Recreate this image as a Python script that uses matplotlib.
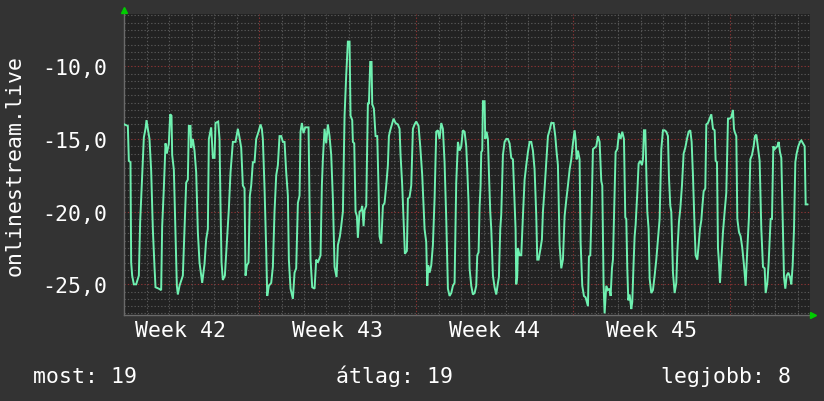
import matplotlib
matplotlib.use('Agg')
import matplotlib.pyplot as plt
import matplotlib.transforms as mtransforms
import numpy as np

# time in days from start of graph, value of onlinestream.live
days = [
    0.000, 0.149, 0.193, 0.267, 0.297, 0.342, 0.416, 0.520, 0.639, 0.698, 0.773, 0.862, 0.936, 0.981,
    1.040, 1.114, 1.189, 1.263, 1.337, 1.382, 1.530, 1.634, 1.679, 1.753, 1.828, 1.887, 1.976, 2.036,
    2.095, 2.125, 2.199, 2.273, 2.333, 2.377, 2.452, 2.600, 2.675, 2.749, 2.823, 2.868, 2.942, 2.972,
    3.046, 3.120, 3.195, 3.269, 3.343, 3.462, 3.566, 3.640, 3.715, 3.759, 3.863, 3.938, 4.012, 4.056,
    4.175, 4.235, 4.279, 4.324, 4.383, 4.473, 4.562, 4.651, 4.725, 4.829,
    4.948, 5.052, 5.126, 5.201, 5.275, 5.349, 5.394, 5.453, 5.527, 5.587, 5.646, 5.721, 5.795, 5.869,
    5.973, 6.062, 6.122, 6.166, 6.241, 6.315, 6.360, 6.434, 6.538, 6.612, 6.686, 6.761, 6.835, 6.909,
    6.984, 7.058, 7.132, 7.207, 7.281, 7.325, 7.400, 7.504, 7.578, 7.652, 7.727, 7.801, 7.845, 7.905,
    7.979, 8.053, 8.202, 8.247, 8.291, 8.366, 8.470, 8.544, 8.618, 8.737, 8.796, 8.841, 8.915, 8.990,
    9.064, 9.138, 9.212, 9.287, 9.361, 9.450, 9.510, 9.599, 9.658, 9.733, 9.807, 9.881, 9.955, 10.030,
    10.074, 10.149, 10.178, 10.238, 10.297, 10.357, 10.401, 10.475, 10.550, 10.594, 10.654, 10.698,
    10.773, 10.847, 10.892, 10.951, 11.010, 11.040, 11.114, 11.189, 11.263, 11.322, 11.367, 11.441,
    11.516, 11.590, 11.664, 11.738, 11.783, 11.843, 11.917, 11.991, 12.080, 12.184, 12.259, 12.303,
    12.377, 12.452, 12.496, 12.585, 12.630, 12.704, 12.779, 12.853, 12.927, 13.001, 13.105, 13.180,
    13.269, 13.373, 13.447, 13.492, 13.536, 13.596, 13.670, 13.744, 13.819, 13.893, 13.967, 14.042,
    14.116, 14.190, 14.264, 14.339, 14.413, 14.487, 14.562, 14.636, 14.710, 14.784, 14.859, 14.933,
    15.007, 15.082,
    15.156, 15.230, 15.275, 15.334, 15.379, 15.453, 15.527, 15.602, 15.676, 15.721, 15.780, 15.825,
    15.869, 15.899, 15.944, 15.973, 16.048, 16.077, 16.137, 16.196, 16.241, 16.300, 16.345, 16.419,
    16.493, 16.568, 16.642, 16.686, 16.746, 16.790, 16.865, 16.939, 17.013, 17.088, 17.162, 17.236,
    17.311, 17.385, 17.429, 17.459, 17.504, 17.533, 17.608, 17.682, 17.756, 17.831, 17.905, 17.979,
    18.053, 18.128, 18.202, 18.276, 18.351, 18.395, 18.455, 18.544, 18.603, 18.648, 18.722, 18.796,
    18.871, 18.945, 19.019, 19.123, 19.198, 19.257, 19.316, 19.391, 19.465, 19.539, 19.614, 19.688,
    19.762, 19.837, 19.911, 19.985, 20.059, 20.104, 20.149, 20.208, 20.282,
    20.327, 20.401, 20.475, 20.550, 20.654, 20.698, 20.758, 20.817, 20.877, 20.951, 21.025, 21.100,
    21.174, 21.248, 21.293, 21.352, 21.397, 21.471, 21.545, 21.620, 21.664, 21.724, 21.768, 21.813,
    21.887, 21.961, 22.036, 22.110, 22.184, 22.259, 22.318, 22.363, 22.407, 22.452, 22.511, 22.585,
    22.630, 22.689, 22.734, 22.779, 22.853, 22.912, 22.987, 23.061, 23.106, 23.150, 23.210, 23.254,
    23.299, 23.358, 23.403, 23.477, 23.551, 23.626, 23.700, 23.774, 23.848, 23.923, 23.997, 24.071,
    24.146, 24.220, 24.264, 24.324, 24.368, 24.443, 24.517, 24.591, 24.636, 24.710, 24.770, 24.844,
    24.918, 24.993, 25.067, 25.141, 25.215, 25.275, 25.334, 25.409,
    25.453, 25.527, 25.587, 25.646, 25.706, 25.750, 25.810, 25.884, 25.929, 26.003, 26.077, 26.152,
    26.226, 26.300, 26.345, 26.404, 26.449, 26.493, 26.538, 26.597, 26.672, 26.746, 26.820, 26.895,
    26.969, 27.043, 27.117, 27.162, 27.192, 27.266, 27.311, 27.385, 27.459, 27.533, 27.608, 27.682,
    27.756, 27.831, 27.890, 27.964, 28.039, 28.098, 28.158, 28.232, 28.306, 28.380, 28.455, 28.529,
    28.574, 28.648, 28.707, 28.796, 28.856, 28.915, 28.975, 29.034, 29.094, 29.153, 29.212, 29.272,
    29.346, 29.391, 29.450, 29.510, 29.584, 29.658, 29.718, 29.777, 29.837, 29.896, 29.955, 30.030,
    30.104, 30.163, 30.238, 30.312, 30.357, 30.431,
]
values = [
    -14.0, -14.1, -16.5, -16.6, -23.5, -24.4, -25.0, -25.0, -24.4, -20.7, -18.0, -14.9, -14.3, -13.7,
    -14.3, -15.0, -17.2, -21.2, -23.8, -25.2, -25.3, -25.4, -21.0, -18.4, -15.3, -16.0, -15.3, -13.3,
    -13.4, -16.1, -17.1, -21.6, -25.1, -25.7, -25.1, -24.4, -21.2, -18.0, -17.8, -14.1, -14.1, -15.6,
    -15.0, -15.8, -17.3, -21.4, -23.5, -24.9, -23.6, -21.9, -21.2, -15.0, -14.2, -16.3, -16.3, -13.9,
    -13.8, -15.0, -19.6, -23.5, -24.7, -24.4, -22.1, -19.8, -17.3, -15.2,
    -15.2, -14.3, -14.9, -15.6, -18.2, -18.4, -24.4, -23.7, -23.5, -18.9, -18.2, -16.6, -16.6, -15.0,
    -14.5, -14.0, -14.3, -15.0, -18.4, -22.6, -25.8, -25.1, -24.9, -23.8, -20.0, -17.5, -16.8, -14.8,
    -14.8, -15.2, -15.2, -17.3, -18.9, -23.3, -25.3, -26.0, -24.2, -23.9, -19.4, -18.9, -14.5, -13.9,
    -14.6, -14.2, -14.2, -19.4, -23.3, -25.2, -25.3, -23.3, -23.5, -23.0, -18.2, -16.4, -14.3, -15.3,
    -14.0, -14.8, -16.1, -19.1, -23.8, -24.5, -22.3, -21.7, -21.0, -20.0, -13.4, -10.6, -8.3, -8.3,
    -13.4, -13.7, -15.2, -15.3, -20.0, -20.3, -21.8, -20.0, -19.9, -19.6, -21.0, -19.9,
    -19.6, -12.5, -12.6, -9.7, -9.7, -12.6, -12.9, -14.8, -14.8, -18.4, -21.7, -22.2,
    -19.6, -19.4, -18.2, -16.8, -14.8, -14.4, -14.0, -13.6, -13.9, -14.0, -14.3, -16.1,
    -18.2, -21.2, -22.9, -22.7, -19.1, -19.0, -18.2, -14.3, -14.0, -13.8, -14.1, -15.5,
    -17.5, -21.2, -22.1, -25.1, -23.7, -24.2, -23.7, -22.3, -19.1, -14.5, -14.4, -15.0,
    -13.9, -14.3, -16.6, -20.5, -25.3, -25.8, -25.6, -25.1, -24.9, -18.0, -15.2, -15.8,
    -15.5, -14.4,
    -14.5, -15.5, -17.1, -19.4, -23.9, -25.1, -25.7, -25.6, -25.1, -23.0, -22.8, -19.7,
    -18.2, -15.9, -15.8, -12.4, -12.4, -15.0, -14.5, -15.0, -17.3, -20.0, -21.2, -24.4,
    -25.2, -25.7, -24.9, -24.5, -21.2, -20.2, -16.1, -15.2, -15.0, -15.0, -15.3, -16.3,
    -16.4, -19.4, -21.2, -25.0, -24.4, -22.5, -23.0, -23.0, -20.3, -17.8, -16.8, -15.9,
    -15.2, -15.2, -15.8, -17.1, -20.3, -23.3, -23.3, -22.5, -21.9, -20.0, -18.4, -16.6,
    -14.8, -14.4, -13.9, -13.9, -14.8, -15.9, -16.8, -22.3, -23.9, -23.3, -20.3, -19.2,
    -18.2, -17.1, -16.4, -15.3, -14.4, -15.0, -16.4, -15.8, -16.4,
    -22.1, -25.1, -25.8, -25.9, -26.5, -23.1, -23.0, -19.9, -15.7, -15.6, -15.5, -14.8,
    -15.2, -17.9, -18.2, -25.1, -27.0, -25.1, -25.4, -25.3, -25.8, -23.9, -23.3, -20.5,
    -15.9, -15.7, -14.6, -15.0, -14.5, -15.0, -20.4, -20.5, -23.9, -26.1, -25.7, -26.7,
    -26.2, -23.5, -21.7, -20.9, -18.7, -16.7, -16.5, -16.8, -16.4, -14.4, -14.4, -17.1,
    -20.0, -21.2, -24.6, -25.6, -25.4, -24.4, -23.3, -21.9, -20.5, -15.7, -14.4, -14.4,
    -14.5, -14.8, -17.6, -19.6, -20.0, -24.2, -25.6, -24.9, -22.8, -20.7, -19.8, -18.2,
    -16.0, -15.6, -15.0, -14.5, -14.4, -15.2, -17.5, -21.2,
    -23.0, -23.3, -22.3, -21.2, -20.6, -19.7, -18.6, -18.4, -14.0, -13.9, -13.6, -13.3,
    -14.3, -14.4, -16.5, -16.6, -22.5, -23.5, -24.9, -23.3, -21.4, -20.0, -18.7, -13.6,
    -13.6, -13.5, -13.0, -14.3, -14.5, -14.8, -20.5, -21.4, -21.7, -22.5, -23.7, -25.1,
    -22.6, -20.3, -16.4, -16.1, -15.5, -14.8, -14.7, -15.6, -16.5, -21.2, -23.8, -23.9,
    -25.6, -24.9, -23.5, -20.5, -20.5, -15.5, -15.7, -15.6, -15.5, -15.2, -15.9, -16.3,
    -21.2, -24.5, -25.3, -24.4, -24.2, -24.5, -25.0, -23.7, -21.2, -16.6, -16.0, -15.5,
    -15.2, -15.1, -15.3, -15.5, -19.5, -19.5,
]

y_ticks = [-25, -20, -15, -10]
y_tick_labels = ['-25,0', '-20,0', '-15,0', '-10,0']
week_starts = [6, 13, 20, 27]
week_label_pos = [2.5, 9.5, 16.5, 23.5]
week_labels = ['Week 42', 'Week 43', 'Week 44', 'Week 45']
legend_texts = ['most: 19', 'átlag: 19', 'legjobb: 8']

BG = '#333333'
CANVAS = '#222222'
LINE = '#6ff0b0'
FONT = 'DejaVu Sans Mono'
FS = 15.5

plt.rcParams['font.family'] = FONT

fig = plt.figure(figsize=(8.24, 4.02), dpi=100, facecolor=BG)
ax = fig.add_axes([124.5 / 824, 1 - 316 / 402, (810 - 124.5) / 824, (316 - 15) / 402])
ax.set_facecolor(CANVAS)

xmin, xmax = 0.0, 30.55
ymin, ymax = -27.11, -6.40

# grid: minor every 0.5 / 1 day (grey), major every 5 / week (red)
dots = (0, (1.2, 1.8))
for v in np.arange(-27.0, ymax, 0.5):
    if abs(v % 5) < 1e-9:
        ax.axhline(v, color='#8a3333', lw=0.8, ls=dots, zorder=1)
    else:
        ax.axhline(v, color='#575757', lw=0.8, ls=dots, zorder=1)
for d in range(0, 31):
    if d in week_starts:
        ax.axvline(d, color='#8a3333', lw=0.8, ls=dots, zorder=1)
    else:
        ax.axvline(d, color='#575757', lw=0.8, ls=dots, zorder=1)

ax.plot(days, values, color=LINE, lw=1.4, zorder=3, solid_joinstyle='miter')

ax.set_xlim(xmin, xmax)
ax.set_ylim(ymin, ymax)

for s in ['top', 'right']:
    ax.spines[s].set_visible(False)
for s in ['left', 'bottom']:
    ax.spines[s].set_color('#6a6a6a')
    ax.spines[s].set_linewidth(1.0)

ax.set_yticks(y_ticks, y_tick_labels)
ax.set_xticks(week_label_pos, week_labels)
ax.tick_params(axis='y', length=0, pad=12.5, labelsize=FS, labelcolor='white')
ax.tick_params(axis='x', length=0, pad=3.5, labelsize=FS, labelcolor='white')

ax.set_ylabel('onlinestream.live', color='white', fontsize=FS)
ax.yaxis.set_label_coords(-100 / 686, 0.5)

# rrdtool style axis arrows
up = mtransforms.offset_copy(ax.transAxes, fig=fig, x=0, y=4, units='dots')
ax.plot([0], [1], marker='^', ms=5, color='#00cc00', transform=up, clip_on=False, zorder=5)
right = mtransforms.offset_copy(ax.transAxes, fig=fig, x=3, y=0, units='dots')
ax.plot([1], [0], marker='>', ms=5, color='#00cc00', transform=right, clip_on=False, zorder=5)

# legend line
base = 1 - 383 / 402
fig.text(33 / 824, base, legend_texts[0], color='white', fontsize=FS, ha='left', va='baseline')
fig.text(394 / 824, base, legend_texts[1], color='white', fontsize=FS, ha='center', va='baseline')
fig.text(791 / 824, base, legend_texts[2], color='white', fontsize=FS, ha='right', va='baseline')

fig.savefig('out.png', dpi=100, facecolor=BG)
